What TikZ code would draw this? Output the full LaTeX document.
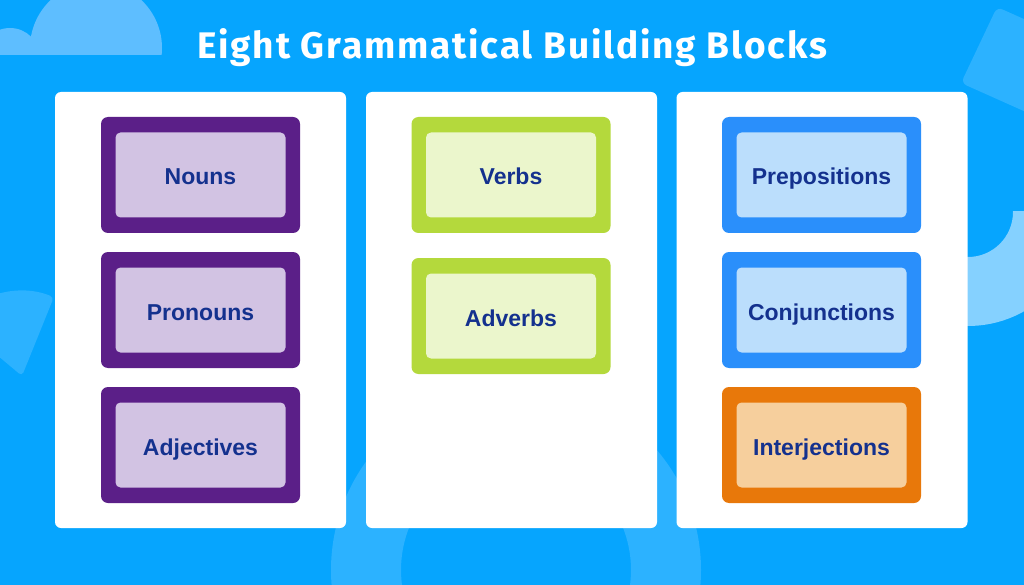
\documentclass[tikz,border=0pt]{standalone}
\usepackage{fontspec}
\setmainfont{Liberation Sans}
\newfontfamily\titlefont[LetterSpace=5]{Fira Sans}
\usetikzlibrary{positioning}

\definecolor{skyback}{HTML}{06A5FE}
\definecolor{skyshade}{HTML}{2CB2FF}
\definecolor{skycloud}{HTML}{5EBEFF}
\definecolor{skyring}{HTML}{85D1FF}
\definecolor{wordblue}{HTML}{14318E}
\definecolor{nounsdark}{HTML}{5B1F88}
\definecolor{nounslight}{HTML}{D2C3E3}
\definecolor{verbsdark}{HTML}{B4D93C}
\definecolor{verbslight}{HTML}{EBF6CC}
\definecolor{linksdark}{HTML}{2A8FFB}
\definecolor{linkslight}{HTML}{BBDEFC}
\definecolor{interdark}{HTML}{E8780A}
\definecolor{interlight}{HTML}{F6CF9D}

\begin{document}
\begin{tikzpicture}[x=1pt, y=-1pt, node distance=135pt, on grid,
    panel/.style={fill=white, rounded corners=6pt, minimum width=291pt, minimum height=436pt, inner sep=0pt},
    block/.style={rounded corners=7pt, minimum width=199pt, minimum height=116pt, inner sep=0pt},
    word/.style={rounded corners=5pt, minimum width=170pt, minimum height=85pt, inner sep=0pt,
      text height=20pt, text depth=0pt, text=wordblue, font=\bfseries\fontsize{23}{26}\selectfont}]

    % background
    \useasboundingbox (0,0) rectangle (1024,585);
    \clip (0,0) rectangle (1024,585);
    \fill[skyback] (0,0) rectangle (1024,585);
    \begin{scope}
      \clip (-10,-10) rectangle (200,55);
      \fill[skycloud] (96,48) circle (66) (10,58) circle (30);
    \end{scope}
    \fill[skyshade, rounded corners=6pt] (997,7) -- (1100,53) -- (1064,129) -- (961,83) -- cycle;
    \fill[skyshade, rounded corners=4pt] (22,376) -- +(-68:85) arc[start angle=-68, end angle=-140, radius=85] -- cycle;
    \fill[skyshade, even odd rule] (516,570) circle (185) (516,570) circle (115);
    \begin{scope}
      \clip (900,212) rectangle (1030,400);
      \fill[skyring, even odd rule] (968,212) circle (114) (968,212) circle (45);
    \end{scope}

    \node[white, anchor=base, font=\titlefont\bfseries\fontsize{37}{42}\selectfont] (title) at (512,59) {Eight Grammatical Building Blocks};

    % columns
    \node[panel] (leftcol) at (200.5,310) {};
    \node[panel] (midcol) at (511.5,310) {};
    \node[panel] (rightcol) at (822,310) {};

    % left column
    \node[block, fill=nounsdark] (nouns) at (200.5,175) {};
    \node[word, fill=nounslight] (nounsw) at (nouns) {Nouns};
    \node[block, fill=nounsdark] (pronouns) [below=of nouns] {};
    \node[word, fill=nounslight] (pronounsw) at (pronouns) {Pronouns};
    \node[block, fill=nounsdark] (adjectives) [below=of pronouns] {};
    \node[word, fill=nounslight] (adjectivesw) at (adjectives) {Adjectives};

    % middle column
    \node[block, fill=verbsdark] (verbs) [right=310.5pt of nouns] {};
    \node[word, fill=verbslight] (verbsw) at (verbs) {Verbs};
    \node[block, fill=verbsdark] (adverbs) [below=141pt of verbs] {};
    \node[word, fill=verbslight] (adverbsw) at (adverbs) {Adverbs};

    % right column
    \node[block, fill=linksdark] (prepositions) [right=310.5pt of verbs] {};
    \node[word, fill=linkslight] (prepositionsw) at (prepositions) {Prepositions};
    \node[block, fill=linksdark] (conjunctions) [below=of prepositions] {};
    \node[word, fill=linkslight] (conjunctionsw) at (conjunctions) {Conjunctions};
    \node[block, fill=interdark] (interjections) [below=of conjunctions] {};
    \node[word, fill=interlight] (interjectionsw) at (interjections) {Interjections};
\end{tikzpicture}
\end{document}
